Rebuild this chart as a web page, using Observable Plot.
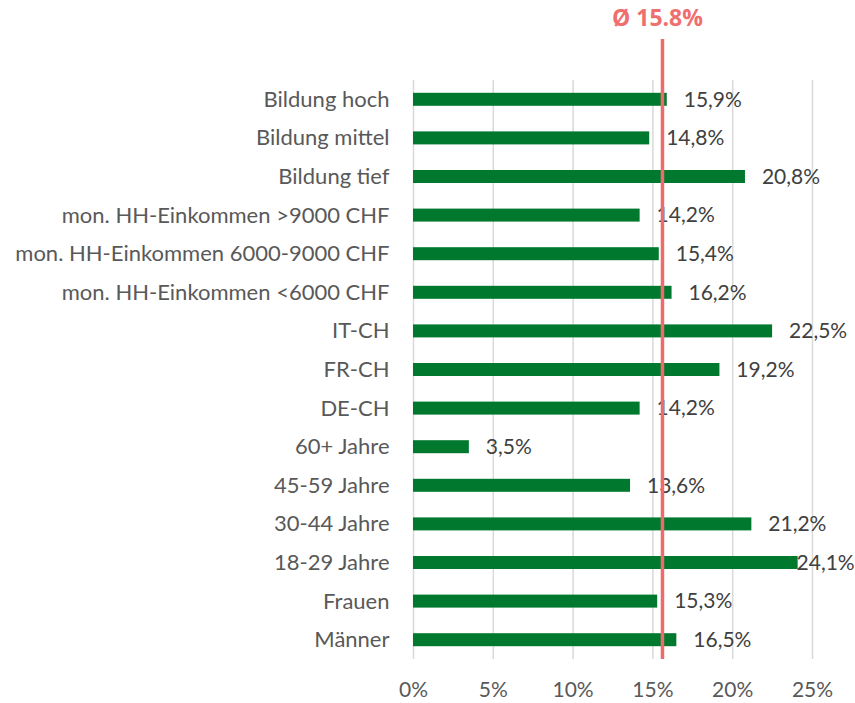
<!DOCTYPE html>
<html><head><meta charset="utf-8">
<script src="https://cdn.jsdelivr.net/npm/d3@7"></script>
<script src="https://cdn.jsdelivr.net/npm/@observablehq/plot@0.6"></script>
<style>body{margin:0;background:#fff;}</style>
</head><body><div id="chart"></div>
<script>
const categories = [
  "Bildung hoch", "Bildung mittel", "Bildung tief",
  "mon. HH-Einkommen >9000 CHF", "mon. HH-Einkommen 6000-9000 CHF", "mon. HH-Einkommen <6000 CHF",
  "IT-CH", "FR-CH", "DE-CH",
  "60+ Jahre", "45-59 Jahre", "30-44 Jahre", "18-29 Jahre",
  "Frauen", "Männer"
];
const values = [15.9, 14.8, 20.8, 14.2, 15.4, 16.2, 22.5, 19.2, 14.2, 3.5, 13.6, 21.2, 24.1, 15.3, 16.5];
const xTicks = [0, 5, 10, 15, 20, 25];
const averageLine = [15.6];
const averageLabel = "Ø 15.8%";

const data = categories.map((c, i) => ({category: c, value: values[i]}));
const fmt = v => v.toFixed(1).replace(".", ",") + "%";

const chart = Plot.plot({
  width: 855, height: 703,
  marginLeft: 413, marginRight: 43, marginTop: 80, marginBottom: 44,
  style: {fontFamily: "Lato", fontSize: "21px", color: "#595959", background: "#fff"},
  x: {domain: [0, 25], label: null},
  y: {domain: categories, padding: 0, round: false, label: null},
  marks: [
    Plot.ruleX(xTicks, {stroke: "#d9d9d9", strokeWidth: 1.5}),
    Plot.axisX({ticks: xTicks, tickSize: 0, tickPadding: 23, tickFormat: d => d + "%", label: null}),
    Plot.axisY({tickSize: 0, tickPadding: 24, fontSize: 22, label: null}),
    Plot.barX(data, {x: "value", y: "category", fill: "#00792f", insetTop: 12.8, insetBottom: 12.8}),
    Plot.text(data, {x: d => Math.min(d.value + 1.03, 24.0), y: "category", text: d => fmt(d.value), textAnchor: "start", fill: "#404040", fontSize: 21}),
    Plot.ruleX(averageLine, {stroke: "#ee6b6b", strokeWidth: 3.5, insetTop: -41}),
    Plot.text(averageLine, {x: d => d, frameAnchor: "top", lineAnchor: "bottom", dy: -55, dx: -5, text: () => averageLabel, fill: "#ef6e6e", fontWeight: "bold", fontSize: 23, fontFamily: "Open Sans"})
  ]
});
document.getElementById("chart").appendChild(chart);
</script>
</body></html>
